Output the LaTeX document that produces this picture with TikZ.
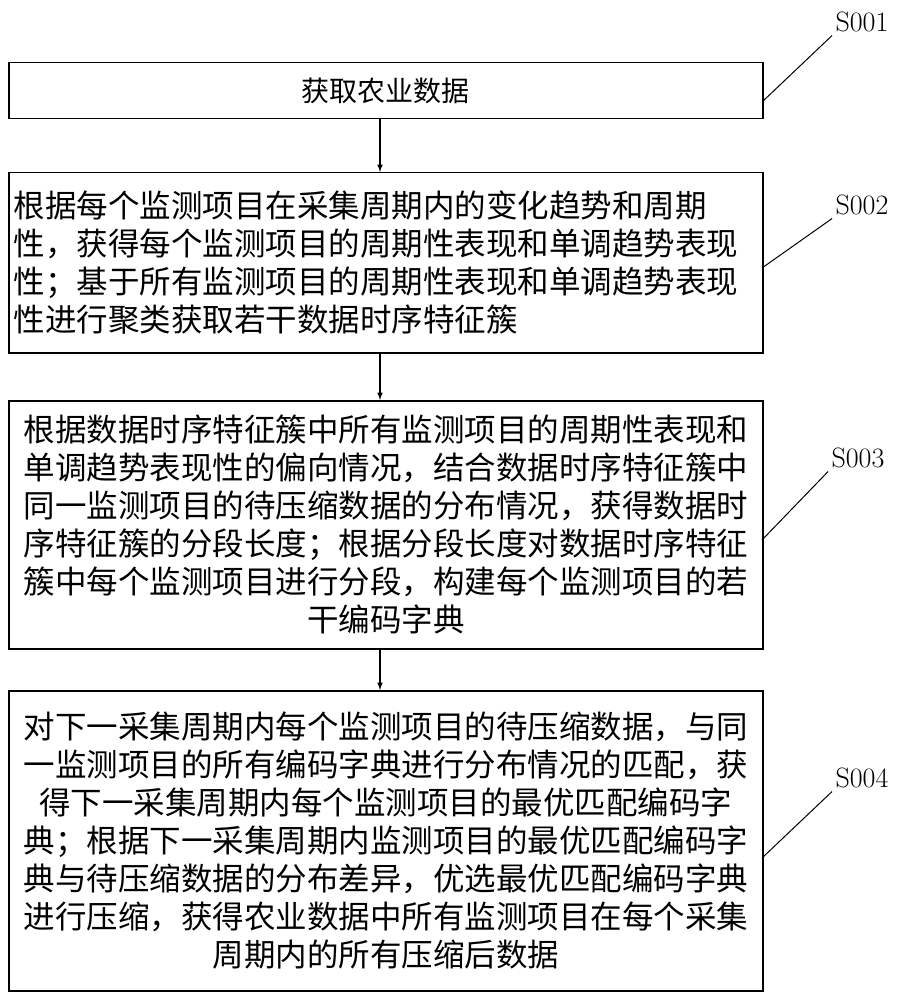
\documentclass[tikz,border=0pt]{standalone}
\usepackage{fontspec}
\newfontfamily\cjk{Noto Sans CJK SC}
\begin{document}
\begin{tikzpicture}[x=1pt,y=-1pt,
  box/.style={draw,line width=1.5pt,minimum width=754pt,anchor=north west,inner sep=0pt,font=\cjk\fontsize{31.5}{38}\selectfont,text width=740pt},
  lab/.style={font=\fontsize{28}{30}\selectfont},
  arr/.style={-latex,line width=1.5pt}]
\useasboundingbox (0,0) rectangle (910,1000);
\node[box,minimum height=56pt,align=center,font=\cjk\fontsize{28}{38}\selectfont] (b1) at (8,62) {获取农业数据};
\node[box,minimum height=180pt,align=left,text width=744pt] (b2) at (8,172) {根据每个监测项目在采集周期内的变化趋势和周期\\性，获得每个监测项目的周期性表现和单调趋势表现\\性；基于所有监测项目的周期性表现和单调趋势表现\\性进行聚类获取若干数据时序特征簇};
\node[box,minimum height=248pt,align=center] (b3) at (8,400) {根据数据时序特征簇中所有监测项目的周期性表现和\\单调趋势表现性的偏向情况，结合数据时序特征簇中\\同一监测项目的待压缩数据的分布情况，获得数据时\\序特征簇的分段长度；根据分段长度对数据时序特征\\簇中每个监测项目进行分段，构建每个监测项目的若\\干编码字典};
\node[box,minimum height=300pt,align=center] (b4) at (8,690) {对下一采集周期内每个监测项目的待压缩数据，与同\\一监测项目的所有编码字典进行分布情况的匹配，获\\得下一采集周期内每个监测项目的最优匹配编码字\\典；根据下一采集周期内监测项目的最优匹配编码字\\典与待压缩数据的分布差异，优选最优匹配编码字典\\进行压缩，获得农业数据中所有监测项目在每个采集\\周期内的所有压缩后数据};
\draw[arr] (380,118) -- (380,172);
\draw[arr] (380,352) -- (380,400);
\draw[arr] (380,648) -- (380,690);
\node[lab] (s1) at (862,22) {S001};
\node[lab] (s2) at (862,205) {S002};
\node[lab] (s3) at (858,458) {S003};
\node[lab] (s4) at (862,778) {S004};
\draw[line width=1pt] (762,102) -- (s1.south west);
\draw[line width=1pt] (762,268) -- (s2.south west);
\draw[line width=1pt] (762,540) -- (s3.south west);
\draw[line width=1pt] (762,858) -- (s4.south west);
\end{tikzpicture}
\end{document}
